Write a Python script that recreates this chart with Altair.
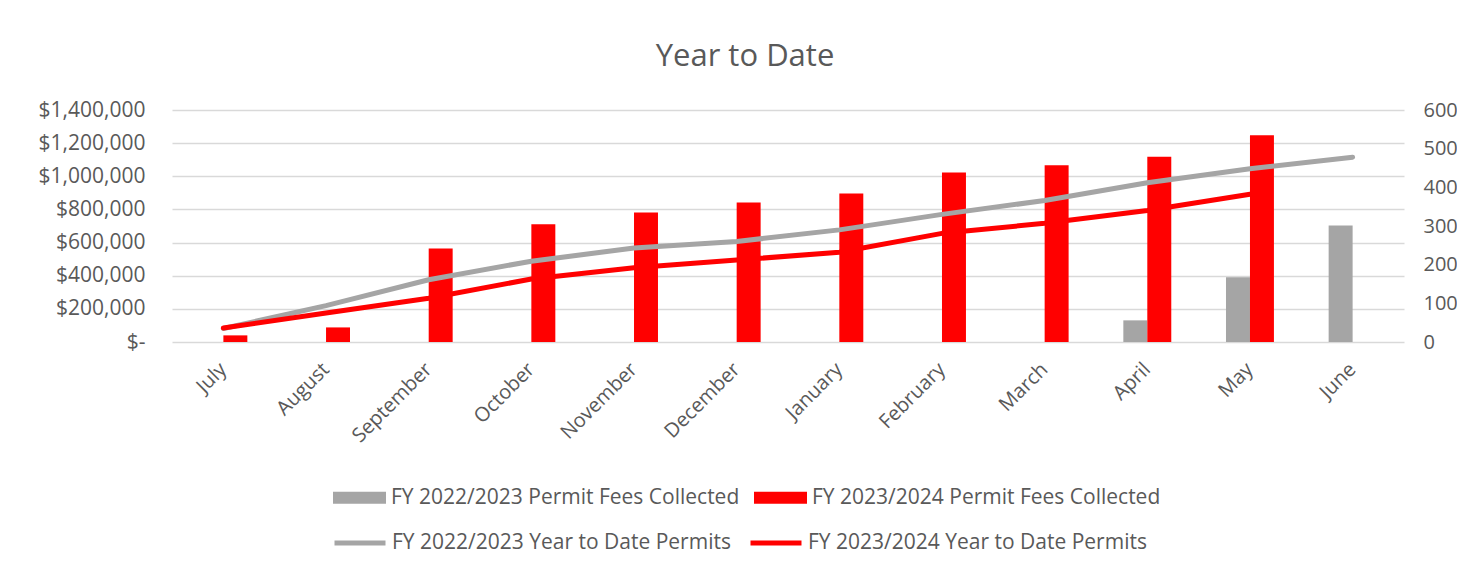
import altair as alt
import pandas as pd

months = ["July", "August", "September", "October", "November", "December",
          "January", "February", "March", "April", "May", "June"]

fees_2223 = [None, None, None, None, None, None, None, None, None, 130600, 390500, 703000]
fees_2324 = [40000, 88000, 564000, 711000, 781000, 842000, 896000, 1023000, 1066000, 1118000, 1247000, None]
ytd_2223 = [35, 94, 161, 209, 243, 260, 290, 330, 366, 412, 448, 478]
ytd_2324 = [36, 75, 113, 163, 192, 212, 232, 281, 307, 340, 382, None]

bar_series = ["FY 2022/2023 Permit Fees Collected", "FY 2023/2024 Permit Fees Collected"]
line_series = ["FY 2022/2023 Year to Date Permits", "FY 2023/2024 Year to Date Permits"]
gray = "#a5a5a5"
red = "#ff0000"

bar_rows = []
for name, vals in zip(bar_series, [fees_2223, fees_2324]):
    for m, v in zip(months, vals):
        if v is not None:
            bar_rows.append({"month": m, "series": name, "value": v})
bars_df = pd.DataFrame(bar_rows)

line_rows = []
for name, vals in zip(line_series, [ytd_2223, ytd_2324]):
    for i, (m, v) in enumerate(zip(months, vals)):
        if v is not None:
            line_rows.append({"month": m, "series": name, "value": v, "order": i})
lines_df = pd.DataFrame(line_rows)

label_color = "#595959"
font = "Open Sans"

x_enc = alt.X("month:N", sort=months,
              scale=alt.Scale(domain=months, paddingInner=0.533, paddingOuter=0.267),
              axis=alt.Axis(title=None, labelAngle=-45, labelAlign="right", labelBaseline="middle",
                            labelPadding=24, domain=False, ticks=False, grid=False,
                            labelFontSize=20, labelColor=label_color, labelFont=font))

bars = alt.Chart(bars_df).mark_bar().encode(
    x=x_enc,
    xOffset=alt.XOffset("series:N", scale=alt.Scale(domain=bar_series)),
    y=alt.Y("value:Q", scale=alt.Scale(domain=[0, 1400000]),
            axis=alt.Axis(title=None, orient="left", values=list(range(0, 1400001, 200000)),
                          labelExpr="datum.value == 0 ? '$-' : '$' + format(datum.value, ',')",
                          domain=False, ticks=False, grid=True, gridColor="#d9d9d9", gridWidth=1.3,
                          labelPadding=27, labelFontSize=21, labelColor=label_color, labelFont=font)),
    color=alt.Color("series:N", scale=alt.Scale(domain=bar_series, range=[gray, red]),
                    legend=alt.Legend(title=None, orient="none", direction="horizontal",
                                      legendX=161, legendY=361, padding=0,
                                      symbolType="M-1,-0.226H1V0.226H-1Z", symbolSize=2809,
                                      symbolStrokeWidth=0, symbolOpacity=1,
                                      columnPadding=14, labelOffset=5,
                                      labelFontSize=21, labelColor=label_color, labelFont=font,
                                      labelLimit=500)),
)

lines = alt.Chart(lines_df).mark_line(strokeWidth=5, strokeCap="round", strokeJoin="round").encode(
    x=x_enc,
    y=alt.Y("value:Q", scale=alt.Scale(domain=[0, 600]),
            axis=alt.Axis(title=None, orient="right", values=list(range(0, 601, 100)),
                          domain=False, ticks=False, grid=False,
                          labelPadding=19, labelFontSize=20, labelColor=label_color, labelFont=font)),
    stroke=alt.Stroke("series:N", scale=alt.Scale(domain=line_series, range=[gray, red]),
                      legend=alt.Legend(title=None, orient="none", direction="horizontal",
                                        legendX=160, legendY=405, padding=0,
                                        symbolType="stroke", symbolSize=2600, symbolStrokeWidth=5,
                                        columnPadding=9, labelOffset=4,
                                        labelFontSize=21, labelColor=label_color, labelFont=font,
                                        labelLimit=500)),
    order="order:Q",
)

chart = alt.layer(bars, lines).resolve_scale(
    y="independent", color="independent", stroke="independent"
).properties(
    width=1232, height=232,
    title=alt.TitleParams("Year to Date", fontSize=31, font=font, fontWeight="normal",
                          color=label_color, anchor="middle", dx=-43, offset=2,
                          baseline="alphabetic"),
    autosize=alt.AutoSizeParams(type="none"),
    padding={"left": 164, "top": 102, "right": 53, "bottom": 218},
).configure_view(stroke=None)

chart.save("out.html", embed_options={"renderer": "svg", "actions": False})
